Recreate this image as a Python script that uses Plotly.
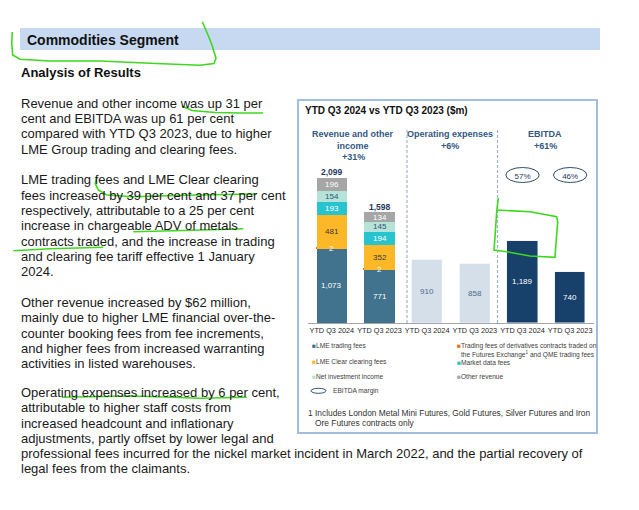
import plotly.graph_objects as go

# ---------------- data ----------------
categories = ["YTD Q3 2024", "YTD Q3 2023", "YTD Q3 2024", "YTD Q3 2023", "YTD Q3 2024", "YTD Q3 2023"]
lme_trading_fees = [1073, 771]
derivatives_qme_fees = [2, 2]
lme_clear_fees = [481, 352]
market_data_fees = [193, 194]
net_investment_income = [154, 145]
other_revenue = [196, 134]
operating_expenses = [910, 858]
ebitda = [1189, 740]
ebitda_margin = [57, 46]
section_titles = ["Revenue and other<br>income<br>+31%", "Operating expenses<br>+6%", "EBITDA<br>+61%"]
legend_labels = ["LME trading fees",
                 "Trading fees of derivatives contracts traded on<br>the Futures Exchange<sup>1</sup> and QME trading fees",
                 "LME Clear clearing fees", "Market data fees", "Net investment income", "Other revenue"]

# ---------------- layout geometry (page pixels) ----------------
PAGE_W, PAGE_H = 639, 510
OX, OY = 8, 8            # default body margin of the html page
W, H = PAGE_W - OX, PAGE_H - OY
L, R, T, B = 308, 594, 164, 323
YMAX = 2298
FONT = "Liberation Sans, Arial, sans-serif"


def px(x):
    return (x - L) / (R - L)


def py(y):
    return (B - y) / (B - T)


rev_x = [0, 1]
opex_x = [2, 3]
ebitda_x = [4, 5]

segments = [
    (legend_labels[0], lme_trading_fees, "#41728E", "white"),
    (legend_labels[1], derivatives_qme_fees, "#E8731C", "white"),
    (legend_labels[2], lme_clear_fees, "#FDB827", "#3A3A3A"),
    (legend_labels[3], market_data_fees, "#27C3CE", "white"),
    (legend_labels[4], net_investment_income, "#B6E3D8", "#2F5575"),
    (legend_labels[5], other_revenue, "#A6A6A6", "white"),
]

fig = go.Figure()
annotations = []
shapes = []

base = [0, 0]
for name, vals, color, tcolor in segments:
    lw = 1.6 if color == "#E8731C" else 0
    fig.add_trace(go.Bar(x=rev_x, y=vals, width=0.63, name=name, showlegend=False,
                         marker=dict(color=color, line=dict(color=color, width=lw)),
                         hoverinfo="skip"))
    for i, v in enumerate(vals):
        annotations.append(dict(x=rev_x[i], y=base[i] + v / 2, xref="x", yref="y",
                                text=f"{v:,}", showarrow=False,
                                font=dict(size=8, color=tcolor, family=FONT)))
        base[i] += v

for i, tot in enumerate(base):
    annotations.append(dict(x=rev_x[i], y=tot, xref="x", yref="y", yshift=5.5,
                            text=f"<b>{tot:,}</b>", showarrow=False,
                            font=dict(size=8.5, color="#1F3864", family=FONT)))

fig.add_trace(go.Bar(x=opex_x, y=operating_expenses, width=0.63, showlegend=False,
                     marker=dict(color="#D5DFE9"), hoverinfo="skip"))
for i, v in enumerate(operating_expenses):
    annotations.append(dict(x=opex_x[i], y=v / 2, xref="x", yref="y", text=f"{v:,}",
                            showarrow=False, font=dict(size=8, color="#4A6A8C", family=FONT)))

fig.add_trace(go.Bar(x=ebitda_x, y=ebitda, width=0.63, showlegend=False,
                     marker=dict(color="#17406B"), hoverinfo="skip"))
for i, v in enumerate(ebitda):
    annotations.append(dict(x=ebitda_x[i], y=v / 2, xref="x", yref="y", text=f"{v:,}",
                            showarrow=False, font=dict(size=8, color="white", family=FONT)))

# EBITDA margin ellipses with centred labels
for i, m in enumerate(ebitda_margin):
    shapes.append(dict(type="circle", xref="x", yref="paper",
                       x0=ebitda_x[i] - 0.35, x1=ebitda_x[i] + 0.35,
                       y0=py(182.5), y1=py(167.5),
                       line=dict(color="#2F4F70", width=1),
                       label=dict(text=f"{m}%", textposition="middle center",
                                  font=dict(size=8, color="#1F3864", family=FONT))))


def text(t, x, y, size, color="#1A1A1A", anchor="left"):
    annotations.append(dict(x=px(x), y=py(y), xref="paper", yref="paper", text=t,
                            showarrow=False, xanchor=anchor, yanchor="middle",
                            font=dict(size=size, color=color, family=FONT)))


# section titles in the chart
title_x = [353.0, 449.8, 545.3]
for t, x in zip(section_titles, title_x):
    for k, line in enumerate(t.split("<br>")):
        text(f"<b>{line}</b>", x, 134 + 11.7 * k, 9, "#33577F", "center")

# chart title
text("<b>YTD Q3 2024 vs YTD Q3 2023 ($m)</b>", 302.5, 110.5, 10, "#111111")

# legend
leg_pos = [(310, 345.7), (454.5, 345.7), (310, 362), (454.5, 362), (310, 376.7), (454.5, 376.7)]
for (name, vals, color, tcolor), (lx, ly) in zip(segments, leg_pos):
    parts = name.split("<br>")
    text(f"<span style='color:{color}'>■</span>{parts[0]}", lx, ly, 6.6, "#404040")
    if len(parts) > 1:
        text(parts[1], lx + 4.6, ly + 8.6, 6.6, "#404040")
shapes.append(dict(type="circle", xref="paper", yref="paper", x0=px(311), x1=px(326),
                   y0=py(393.3), y1=py(388.3), line=dict(color="#2F4F70", width=1)))
text("EBITDA margin", 330.5, 390.7, 6.6, "#404040")

# footnote
text("1 Includes London Metal Mini Futures, Gold Futures, Silver Futures and Iron", 306, 412.5, 8.4, "#333333")
text("Ore Futures contracts only", 312.5, 422.5, 8.4, "#333333")

# page text
text("<b>Commodities Segment</b>", 25, 40, 14, "#111111")
text("<b>Analysis of Results</b>", 18.5, 73, 13, "#111111")
para_lines = [
    (103.3, "Revenue and other income was up 31 per"),
    (118.6, "cent and EBITDA was up 61 per cent"),
    (133.9, "compared with YTD Q3 2023, due to higher"),
    (149.2, "LME Group trading and clearing fees."),
    (179.8, "LME trading fees and LME Clear clearing"),
    (195.1, "fees increased by 39 per cent and 37 per cent"),
    (210.4, "respectively, attributable to a 25 per cent"),
    (225.7, "increase in chargeable ADV of metals"),
    (241.0, "contracts traded, and the increase in trading"),
    (256.3, "and clearing fee tariff effective 1 January"),
    (271.3, "2024."),
    (302.6, "Other revenue increased by $62 million,"),
    (317.9, "mainly due to higher LME financial over-the-"),
    (333.1, "counter booking fees from fee increments,"),
    (348.4, "and higher fees from increased warranting"),
    (363.4, "activities in listed warehouses."),
    (392.7, "Operating expenses increased by 6 per cent,"),
    (407.9, "attributable to higher staff costs from"),
    (423.1, "increased headcount and inflationary"),
    (438.3, "adjustments, partly offset by lower legal and"),
    (453.5, "professional fees incurred for the nickel market incident in March 2022, and the partial recovery of"),
    (468.7, "legal fees from the claimants."),
]
for y, t in para_lines:
    text(t, 18.5, y, 13)

# decorative shapes: header bar, chart frame, dashed separators
shapes.append(dict(type="rect", xref="paper", yref="paper", x0=px(20), x1=px(600),
                   y0=py(50), y1=py(28), fillcolor="#C6D9F1", line=dict(width=0), layer="below"))
shapes.append(dict(type="rect", xref="paper", yref="paper", x0=px(298), x1=px(597),
                   y0=py(433), y1=py(100), line=dict(color="#A3BDDF", width=2), layer="below"))
for sx in (407, 497.5):
    shapes.append(dict(type="line", xref="paper", yref="paper", x0=px(sx), x1=px(sx),
                       y0=py(323), y1=py(129), line=dict(color="#9DB3CF", width=1.2, dash="3px,2px")))

# green hand-drawn marks
green_marks = [
    [(12.3, 32), (11.7, 43), (12.7, 55), (20, 59.3), (50, 61), (100, 61), (150, 63.3), (200, 65.3),
     (214, 63.5), (216, 58.3), (212, 45), (208, 35), (205, 28), (202.3, 21.7)],
    [(182, 106), (192, 110.5), (215, 112.5), (240, 113), (263, 113)],
    [(96.7, 177.5), (95.3, 183.3), (98.3, 190), (106.7, 195), (133.3, 196.7), (183.3, 195.3), (256.7, 194)],
    [(133.3, 231.7), (183.3, 230.5), (243.3, 228.7)],
    [(13.3, 250.7), (50, 248.7), (103.3, 247.3)],
    [(61.7, 397.3), (133.3, 396), (200, 398.3), (246.7, 397.3)],
    [(498.3, 198), (496.7, 211.7), (495, 236.7), (494, 250), (506.7, 251.7), (530, 256), (555, 257.3),
     (556, 243.3), (557.7, 222), (556.7, 216.7), (530, 211.7), (496.7, 210)],
]
for pts in green_marks:
    path = "M " + " L ".join(f"{px(x):.5f},{py(y):.5f}" for x, y in pts)
    shapes.append(dict(type="path", xref="paper", yref="paper", path=path,
                       line=dict(color="#3FD81F", width=1.6)))

fig.update_layout(
    width=W, height=H,
    margin=dict(l=L - OX, r=PAGE_W - R, t=T - OY, b=PAGE_H - B, pad=0),
    paper_bgcolor="white", plot_bgcolor="rgba(0,0,0,0)",
    barmode="stack", bargap=0, showlegend=False,
    xaxis=dict(range=[-0.5, 5.5], tickvals=list(range(6)), ticktext=categories,
               tickfont=dict(size=7.3, color="#262626", family=FONT),
               showline=True, linecolor="#A6A6A6", linewidth=1, ticks="",
               showgrid=False, zeroline=False, fixedrange=True),
    yaxis=dict(range=[0, YMAX], visible=False, fixedrange=True),
    annotations=annotations, shapes=shapes,
    font=dict(family=FONT),
)
fig.update_traces(cliponaxis=False)
fig.write_html("out.html")
